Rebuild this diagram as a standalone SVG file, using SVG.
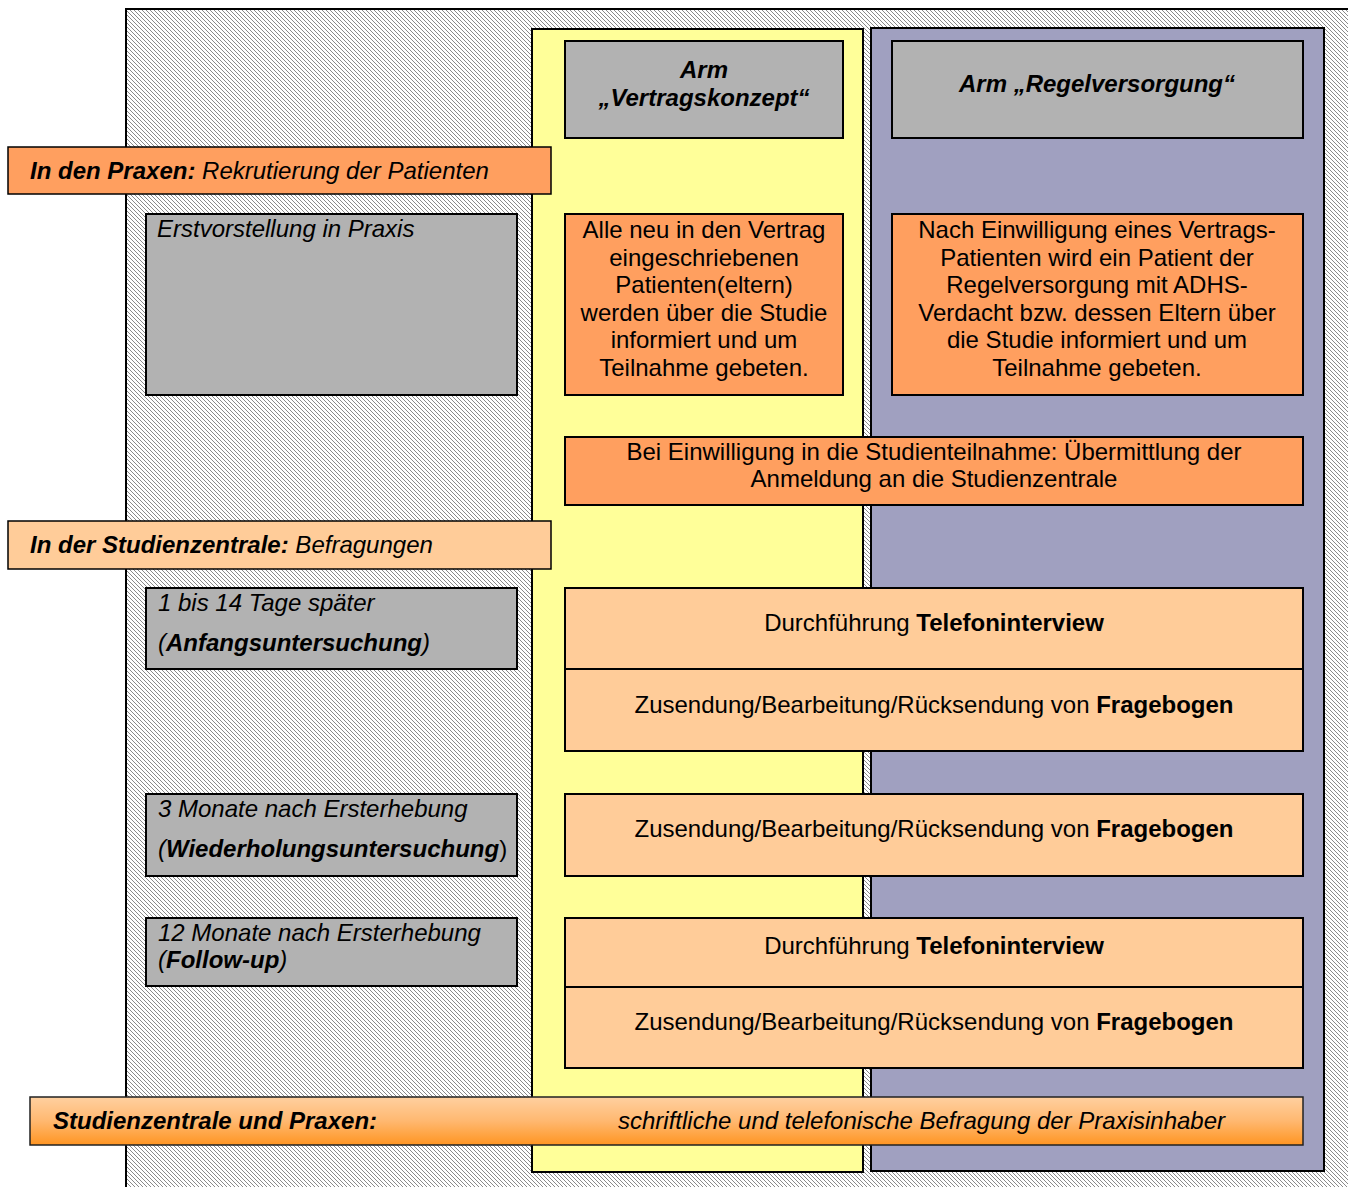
<svg xmlns="http://www.w3.org/2000/svg" width="1348" height="1187" viewBox="0 0 1348 1187">
<defs>
<pattern id="hatch" patternUnits="userSpaceOnUse" width="4" height="4">
<rect width="4" height="4" fill="#ffffff"/>
<path d="M-1,-1 L5,5 M3,-1 L5,1 M-1,3 L1,5" stroke="#8a8a8a" stroke-width="1"/>
</pattern>
<linearGradient id="grad" x1="0" y1="0" x2="0" y2="1">
<stop offset="0" stop-color="#FFD0A0"/>
<stop offset="0.5" stop-color="#FFB870"/>
<stop offset="1" stop-color="#FF9522"/>
</linearGradient>
</defs>
<style>
text{font-family:"Liberation Sans",Arial,sans-serif;font-size:24px;fill:#000}
.c{text-anchor:middle}
.i{font-style:italic}
.b{font-weight:bold}
.gray{fill:#B2B2B2;stroke:#000;stroke-width:2}
.or{fill:#FF9F5F;stroke:#000;stroke-width:2}
.pe{fill:#FFCC99;stroke:#000;stroke-width:2}
.ln{stroke:#000;stroke-width:2;fill:none}
</style>
<rect width="1348" height="1187" fill="#ffffff"/>
<g id="background">
<rect x="126" y="9" width="1300" height="1300" fill="url(#hatch)" stroke="#000" stroke-width="2"/>
<rect x="532" y="29" width="331" height="1143" fill="#FFFF99" stroke="#000" stroke-width="2"/>
<rect x="871" y="28" width="453" height="1143" fill="#A0A0C0" stroke="#000" stroke-width="2"/>
</g>
<g id="connectors"/>
<g id="arm-vertrag">
<rect class="gray" x="565" y="41" width="278" height="97"/>
<text class="c i b" x="704" y="78">Arm</text>
<text class="c i b" x="704" y="106">„Vertragskonzept“</text>
</g>
<g id="arm-regel">
<rect class="gray" x="892" y="41" width="411" height="97"/>
<text class="c i b" x="1097" y="92">Arm „Regelversorgung“</text>
</g>
<g id="banner-praxen">
<rect x="8" y="147" width="543" height="47" fill="#FF9F5F" stroke="#000" stroke-width="1.5"/>
<text x="30" y="179" class="i"><tspan class="b">In den Praxen:</tspan> Rekrutierung der Patienten</text>
</g>
<g id="erstvorstellung">
<rect class="gray" x="146" y="214" width="371" height="181"/>
<text x="157" y="237" class="i" fill="#111">Erstvorstellung in Praxis</text>
</g>
<g id="info-vertrag">
<rect class="or" x="565" y="214" width="278" height="181"/>
<text class="c" x="704" y="238">Alle neu in den Vertrag</text>
<text class="c" x="704" y="265.5">eingeschriebenen</text>
<text class="c" x="704" y="293">Patienten(eltern)</text>
<text class="c" x="704" y="320.5">werden über die Studie</text>
<text class="c" x="704" y="348">informiert und um</text>
<text class="c" x="704" y="375.5">Teilnahme gebeten.</text>
</g>
<g id="info-regel">
<rect class="or" x="892" y="214" width="411" height="181"/>
<text class="c" x="1097" y="238">Nach Einwilligung eines Vertrags-</text>
<text class="c" x="1097" y="265.5">Patienten wird ein Patient der</text>
<text class="c" x="1097" y="293">Regelversorgung mit ADHS-</text>
<text class="c" x="1097" y="320.5">Verdacht bzw. dessen Eltern über</text>
<text class="c" x="1097" y="348">die Studie informiert und um</text>
<text class="c" x="1097" y="375.5">Teilnahme gebeten.</text>
</g>
<g id="einwilligung">
<rect class="or" x="565" y="437" width="738" height="68"/>
<text class="c" x="934" y="460">Bei Einwilligung in die Studienteilnahme: Übermittlung der</text>
<text class="c" x="934" y="487">Anmeldung an die Studienzentrale</text>
</g>
<g id="banner-studienzentrale">
<rect x="8" y="521" width="543" height="48" fill="#FFCC99" stroke="#000" stroke-width="1.5"/>
<text x="30" y="553" class="i"><tspan class="b">In der Studienzentrale:</tspan> Befragungen</text>
</g>
<g id="anfang-label">
<rect class="gray" x="146" y="588" width="371" height="81"/>
<text x="158" y="611" class="i" fill="#111">1 bis 14 Tage später</text>
<text x="158" y="651" class="i" fill="#111">(<tspan class="b" fill="#000">Anfangsuntersuchung</tspan>)</text>
</g>
<g id="anfang-aktionen">
<rect class="pe" x="565" y="588" width="738" height="163"/>
<line class="ln" x1="565" y1="669" x2="1303" y2="669"/>
<text class="c" x="934" y="631">Durchführung <tspan class="b">Telefoninterview</tspan></text>
<text class="c" x="934" y="713">Zusendung/Bearbeitung/Rücksendung von <tspan class="b">Fragebogen</tspan></text>
</g>
<g id="wiederholung-label">
<rect class="gray" x="146" y="794" width="371" height="82"/>
<text x="158" y="817" class="i" fill="#111">3 Monate nach Ersterhebung</text>
<text x="158" y="857" fill="#111"><tspan class="i">(</tspan><tspan class="i b" fill="#000">Wiederholungsuntersuchung</tspan>)</text>
</g>
<g id="wiederholung-aktionen">
<rect class="pe" x="565" y="794" width="738" height="82"/>
<text class="c" x="934" y="837">Zusendung/Bearbeitung/Rücksendung von <tspan class="b">Fragebogen</tspan></text>
</g>
<g id="followup-label">
<rect class="gray" x="146" y="918" width="371" height="68"/>
<text x="158" y="941" class="i" fill="#111">12 Monate nach Ersterhebung</text>
<text x="158" y="968" class="i" fill="#111">(<tspan class="b" fill="#000">Follow-up</tspan>)</text>
</g>
<g id="followup-aktionen">
<rect class="pe" x="565" y="918" width="738" height="150"/>
<line class="ln" x1="565" y1="987" x2="1303" y2="987"/>
<text class="c" x="934" y="954">Durchführung <tspan class="b">Telefoninterview</tspan></text>
<text class="c" x="934" y="1030">Zusendung/Bearbeitung/Rücksendung von <tspan class="b">Fragebogen</tspan></text>
</g>
<g id="banner-praxisinhaber">
<rect x="30" y="1097" width="1273" height="48" fill="url(#grad)" stroke="#222" stroke-width="1.5"/>
<text x="53" y="1129" class="i b">Studienzentrale und Praxen:</text>
<text x="618" y="1129" class="i">schriftliche und telefonische Befragung der Praxisinhaber</text>
</g>
</svg>
